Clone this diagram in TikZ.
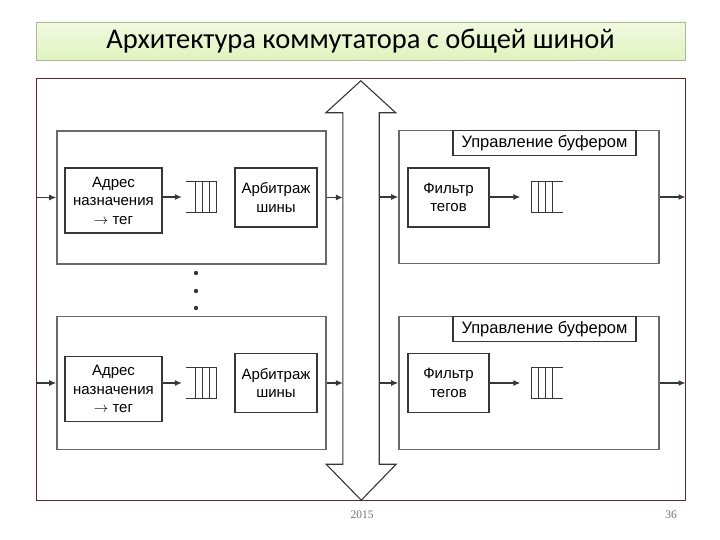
\documentclass[tikz,border=0pt]{standalone}
\usepackage{fontspec}
\setmainfont{Liberation Sans}
\newfontfamily\titlefont{Carlito}
\newfontfamily\footfont{Liberation Serif}
\usepackage{tikz}
\usetikzlibrary{arrows.meta,positioning,calc}
\definecolor{framered}{RGB}{95,40,40}
\definecolor{blockgray}{RGB}{105,105,105}
\definecolor{unitgray}{RGB}{55,55,55}
\definecolor{titlegreen}{RGB}{224,243,190}
\definecolor{titleedge}{RGB}{175,185,155}
\definecolor{footgray}{RGB}{115,115,115}
\tikzset{
  blockbox/.style={draw=blockgray, line width=1.6pt, minimum height=133pt, inner sep=0pt},
  unitbox/.style={draw=unitgray, line width=1.2pt, align=center, inner sep=0pt,
    font=\fontsize{15}{18.5}\selectfont},
  queuebox/.style={minimum width=31pt, minimum height=30pt, inner sep=0pt},
  flow/.style={-{Latex[length=7pt,width=6pt]}, line width=1.1pt, draw=unitgray}
}

\begin{document}
\begin{tikzpicture}[x=1pt, y=-1pt]
\useasboundingbox (0,0) rectangle (720,540);
% title and frame
\node[draw=titleedge, top color=titlegreen!45, bottom color=titlegreen, minimum width=649pt,
      minimum height=38pt, font=\titlefont\fontsize{28.5}{30}\selectfont] (title) at (360.5,41)
      {Архитектура коммутатора с общей шиной};
\node[draw=framered, line width=1pt, minimum width=649pt, minimum height=421pt] (frame) at (360.5,289.5) {};

% bus
\node[minimum width=36pt, minimum height=351pt, inner sep=0pt] (bus) at (361,288.5) {};
\draw[draw=unitgray, line width=1.1pt, fill=white] (bus.north west) -- ++(-17,0) -- ++(35,-32) -- ++(35,32)
  -- (bus.north east) -- (bus.south east) -- ++(17,0) -- ++(-35,36) -- ++(-35,-36) -- (bus.south west) -- cycle;

% input ports
\node[blockbox, minimum width=269pt] (lb1) at (191.5,197.5) {};
\node[blockbox, minimum width=269pt] (lb2) at (191.5,383) {};
\node[unitbox, minimum width=97pt, minimum height=65pt] (adr1) at (113.5,200.5) {Адрес\\назначения\\$\rightarrow$ тег};
\node[unitbox, minimum width=97pt, minimum height=65pt] (adr2) at (113.5,389) {Адрес\\назначения\\$\rightarrow$ тег};
\node[queuebox] (lq1) at (201.5,197) {};
\node[queuebox] (lq2) at (201.5,383) {};
\node[unitbox, minimum width=82pt, minimum height=59pt] (arb1) at (276,197.5) {Арбитраж\\шины};
\node[unitbox, minimum width=82pt, minimum height=59pt] (arb2) at (276,383) {Арбитраж\\шины};
\foreach \y in {273,291,308} \fill[unitgray] (196,\y) circle (2.2);

% output ports
\node[blockbox, minimum width=260pt] (rb1) at (529,197) {};
\node[blockbox, minimum width=260pt] (rb2) at (529,383) {};
\node[unitbox, minimum width=183pt, minimum height=25pt, anchor=north, font=\fontsize{16.5}{18}\selectfont]
  (upr1) at (rb1.north -| 544.5,0) {Управление буфером};
\node[unitbox, minimum width=183pt, minimum height=25pt, anchor=north, font=\fontsize{16.5}{18}\selectfont]
  (upr2) at (rb2.north -| 544.5,0) {Управление буфером};
\node[unitbox, minimum width=81pt, minimum height=59pt] (flt1) at (448.5,197.5) {Фильтр\\тегов};
\node[unitbox, minimum width=81pt, minimum height=59pt] (flt2) at (448.5,383) {Фильтр\\тегов};
\node[queuebox] (rq1) at (547,197) {};
\node[queuebox] (rq2) at (547,383) {};

% queues
\foreach \q in {lq1,lq2} {
  \draw[unitgray, line width=1.1pt] (\q.north west) -- (\q.north east) (\q.south west) -- (\q.south east);
  \foreach \dx in {10,17,24,31}
    \draw[unitgray, line width=1.1pt] ([xshift=\dx pt]\q.north west) -- ([xshift=\dx pt]\q.south west);
}
\foreach \q in {rq1,rq2} {
  \draw[unitgray, line width=1.1pt] (\q.north west) -- (\q.north east) (\q.south west) -- (\q.south east);
  \foreach \dx in {0,7,14,21}
    \draw[unitgray, line width=1.1pt] ([xshift=\dx pt]\q.north west) -- ([xshift=\dx pt]\q.south west);
}

% connectors
\foreach \i in {1,2} {
  \draw[flow] (frame.west |- lb\i) -- (lb\i);
  \draw[flow, shorten >=4pt] (adr\i.east |- lq\i) -- (lq\i);
  \draw[flow] (lb\i.east) -- (lb\i.east -| bus.west);
  \draw[flow] (bus.east |- rb\i) -- (rb\i);
  \draw[flow, shorten >=11pt] (flt\i.east |- rq\i) -- (rq\i);
  \draw[flow] (rb\i.east) -- (rb\i.east -| frame.east);
}

% footer
\node[font=\footfont\fontsize{11.5}{13}\selectfont, text=footgray] (year) at (362,515) {2015};
\node[font=\footfont\fontsize{11.5}{13}\selectfont, text=footgray] (page) at (671,515) {36};
\end{tikzpicture}
\end{document}
